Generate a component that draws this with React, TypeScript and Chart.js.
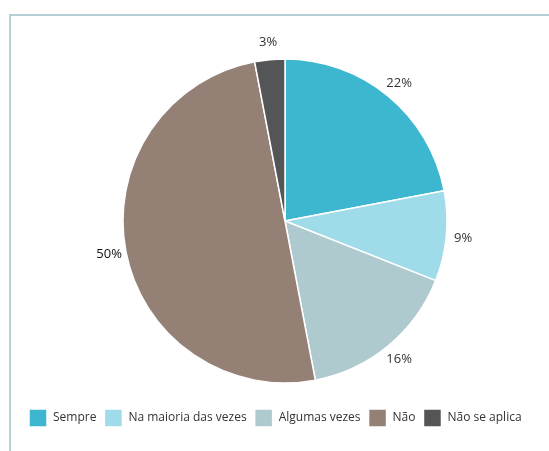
import React, { useEffect, useRef } from "react";
import { Chart, registerables } from "chart.js";

Chart.register(...registerables);

const categories = ["Sempre", "Na maioria das vezes", "Algumas vezes", "Não", "Não se aplica"];
const values = [22, 9, 16, 50, 3];
const colors = ["#3db6cf", "#9fdbe8", "#aecace", "#958076", "#545557"];
const labelColors = ["#333333", "#333333", "#333333", "#111111", "#333333"];

const FONT = "'Open Sans', sans-serif";

const outsideLabels = {
  id: "outsideLabels",
  afterDatasetsDraw(chart: any) {
    const ctx = chart.ctx;
    const meta = chart.getDatasetMeta(0);
    ctx.save();
    ctx.font = `13px ${FONT}`;
    ctx.textAlign = "center";
    ctx.textBaseline = "middle";
    meta.data.forEach((arc: any, i: number) => {
      const p = arc.getProps(["x", "y", "startAngle", "endAngle", "outerRadius"], true);
      const mid = (p.startAngle + p.endAngle) / 2;
      const r = p.outerRadius + 17;
      const x = p.x + Math.cos(mid) * r;
      const y = p.y + Math.sin(mid) * r;
      ctx.fillStyle = labelColors[i];
      ctx.fillText(values[i] + "%", x, y);
    });
    ctx.restore();
  },
};

export default function App() {
  const ref = useRef<HTMLCanvasElement>(null);
  useEffect(() => {
    if (!ref.current) return;
    const chart = new Chart(ref.current, {
      type: "pie",
      data: {
        labels: categories,
        datasets: [
          {
            data: values,
            backgroundColor: colors,
            borderColor: "#ffffff",
            borderWidth: 1.5,
            radius: 162,
          },
        ],
      },
      options: {
        responsive: false,
        animation: false,
        devicePixelRatio: 1,
        layout: { padding: { top: 41, left: 21, right: 0, bottom: 14 } },
        plugins: {
          tooltip: { enabled: false },
          legend: {
            position: "bottom",
            align: "start",
            labels: {
              boxWidth: 18,
              boxHeight: 18,
              padding: 8,
              color: "#333333",
              font: { family: FONT, size: 12 },
            },
          },
        },
      },
      plugins: [outsideLabels],
    });
    return () => chart.destroy();
  }, []);
  return (
    <div style={{ position: "absolute", left: 0, top: 0, width: 549, height: 451, background: "#fff" }}>
      <div
        style={{
          position: "absolute",
          left: 9,
          top: 14,
          width: 540,
          height: 437,
          boxSizing: "border-box",
          borderLeft: "2px solid #b6cfd4",
          borderTop: "2px solid #b6cfd4",
        }}
      />
      <canvas ref={ref} width={549} height={451} style={{ position: "absolute", left: 0, top: 0 }} />
    </div>
  );
}
